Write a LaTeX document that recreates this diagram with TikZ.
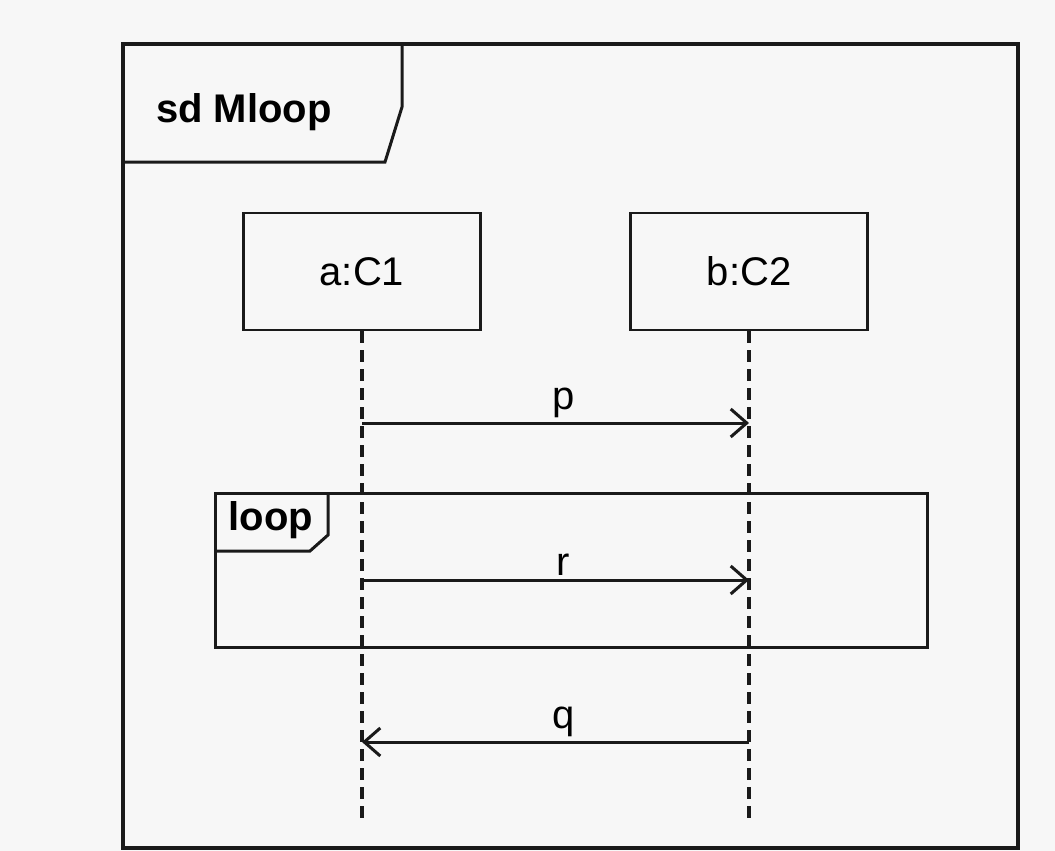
\documentclass[tikz,border=0pt]{standalone}
\usepackage{fontspec}
\setmainfont{Liberation Sans}
\usetikzlibrary{arrows.meta, positioning, calc}
\definecolor{cink}{HTML}{1A1A1A}
\definecolor{cpaper}{HTML}{F7F7F7}
\tikzset{
  every picture/.style={line width=2.8pt, draw=cink},
  big/.style={font=\fontsize{40pt}{44pt}\selectfont},
  obj/.style={draw=cink, big, minimum width=237pt, minimum height=117pt, line width=2.6pt},
  lifeline/.style={draw=cink, dash pattern=on 12pt off 7pt, line width=3.6pt},
  msg/.style={draw=cink, -{Straight Barb[length=16pt, width=28pt, line width=3pt]}, line width=3pt},
  tab/.style={draw=cink, line width=3pt},
  tablabel/.style={font=\fontsize{40pt}{44pt}\selectfont\bfseries},
}

\begin{document}
\begin{tikzpicture}[x=1pt, y=-1pt]
  \fill[cpaper] (0,0) rectangle (1055,851);
  \useasboundingbox (0,0) rectangle (1055,851);
  % outer frame
  \draw[tab, line width=3.4pt] (123,44) rectangle (1018,848);
  \draw[tab] (402,44) -- (402,107) -- (385,162) -- (123,162);
  \node[tablabel] (sd) at (244,112) {sd Mloop};
  % objects
  \node[obj] (a) at (362,271.5) {a:C1};
  \node[obj] (b) at (749,271.5) {b:C2};
  \coordinate (aend) at (a |- 0,820);
  \coordinate (bend) at (b |- 0,820);
  \draw[lifeline] (a.south) -- (aend);
  \draw[lifeline] (b.south) -- (bend);
  % loop fragment
  \draw[tab] (215,493) rectangle (927,647);
  \draw[tab] (328,493) -- (328,535) -- (310,551) -- (215,551);
  \node[tablabel] (loop) at (271,520) {loop};
  % messages
  \coordinate (ap) at (a |- 0,423);
  \coordinate (bp) at (b |- 0,423);
  \coordinate (ar) at (a |- 0,580);
  \coordinate (br) at (b |- 0,580);
  \coordinate (aq) at (a |- 0,742);
  \coordinate (bq) at (b |- 0,742);
  \draw[msg] (ap) -- node[big, above=0pt, pos=0.52] (p) {p} (bp);
  \draw[msg] (ar) -- node[big, above=0pt, pos=0.52] (r) {r} (br);
  \draw[msg] (bq) -- node[big, above=0pt, pos=0.48] (q) {q} (aq);
\end{tikzpicture}
\end{document}
